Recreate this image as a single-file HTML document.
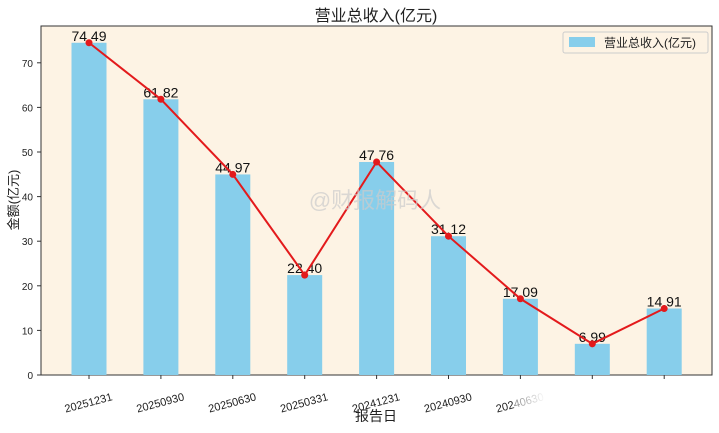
<!DOCTYPE html>
<html><head><meta charset="utf-8"><style>
body{margin:0;background:#fff;font-family:"Liberation Sans","Noto Sans CJK SC",sans-serif}
svg text{font-family:"Liberation Sans","Noto Sans CJK SC",sans-serif}
</style></head><body>
<svg id="c" width="719" height="428">
<rect x="41" y="26" width="671" height="349" fill="#fdf3e4" stroke="#333" stroke-width="1"/>
<text x="376" y="21" font-size="16" text-anchor="middle" fill="#222">营业总收入(亿元)</text>
<g id="bars"></g><g id="line"></g><g id="yt"></g><g id="xt"></g>
<text x="375" y="208" font-size="22" fill="#ccc" opacity="0.7" text-anchor="middle">@财报解码人</text>
<defs><linearGradient id="sm" x1="0" x2="1"><stop offset="0" stop-color="#fff" stop-opacity="0.5"/><stop offset="0.15" stop-color="#fff" stop-opacity="1"/><stop offset="1" stop-color="#fff" stop-opacity="1"/></linearGradient></defs>
<rect x="515" y="382" width="204" height="34" fill="url(#sm)"/>
<text x="376" y="421" font-size="14" text-anchor="middle" fill="#222">报告日</text>
<text x="18" y="200" font-size="13" text-anchor="middle" fill="#222" transform="rotate(-90 18 200)">金额(亿元)</text>
<g>
<rect x="563" y="32" width="145" height="21" fill="#fdf3e4" stroke="#ccc" rx="2"/>
<rect x="569" y="37" width="26" height="10" fill="#87ceeb"/>
<text x="604" y="47" font-size="12" fill="#222">营业总收入(亿元)</text>
</g>
</svg>
<script>
const categories=["20251231","20250930","20250630","20250331","20241231","20240930","20240630","20240331","20231231"];
const values=[74.49,61.82,44.97,22.40,47.76,31.12,17.09,6.99,14.91];
const yTicks=[0,10,20,30,40,50,60,70];
const NS="http://www.w3.org/2000/svg";
const x=i=>89+i*71.9, y=v=>375-v*4.46;
function mk(t,a,p,txt){const e=document.createElementNS(NS,t);for(const k in a)e.setAttribute(k,a[k]);if(txt!=null)e.textContent=txt;document.getElementById(p).appendChild(e);return e;}
values.forEach((v,i)=>{
 const r=mk('rect',{x:x(i)-17.5,y:y(v),width:35,height:y(0)-y(v),fill:'#87ceeb'},'bars');
 
 
 const t=mk('text',{x:x(i),y:y(v)-2,'font-size':14,'text-anchor':'middle',fill:'#111'},'bars',v.toFixed(2));
 
 
});
const pl=mk('polyline',{points:values.map((v,i)=>x(i)+','+y(v)).join(' '),fill:'none',stroke:'#e31a1c','stroke-width':2},'line');


values.forEach((v,i)=>{const c=mk('circle',{cx:x(i),cy:y(v),r:3.5,fill:'#e31a1c'},'line');
 
 });
yTicks.forEach(v=>{mk('line',{x1:37,x2:41,y1:y(v),y2:y(v),stroke:'#333'},'yt');
 const t=mk('text',{x:33,y:y(v)+4,'font-size':10,'text-anchor':'end',fill:'#222'},'yt',v);
 
 });
categories.forEach((c,i)=>{mk('line',{x1:x(i),x2:x(i),y1:375,y2:379,stroke:'#333'},'xt');
 const t=mk('text',{x:x(i)+24,y:400,'font-size':11,'text-anchor':'end',fill:'#222',transform:`rotate(-15 ${x(i)+24} 400)`},'xt',c);
 
 });
</script>
</body></html>
